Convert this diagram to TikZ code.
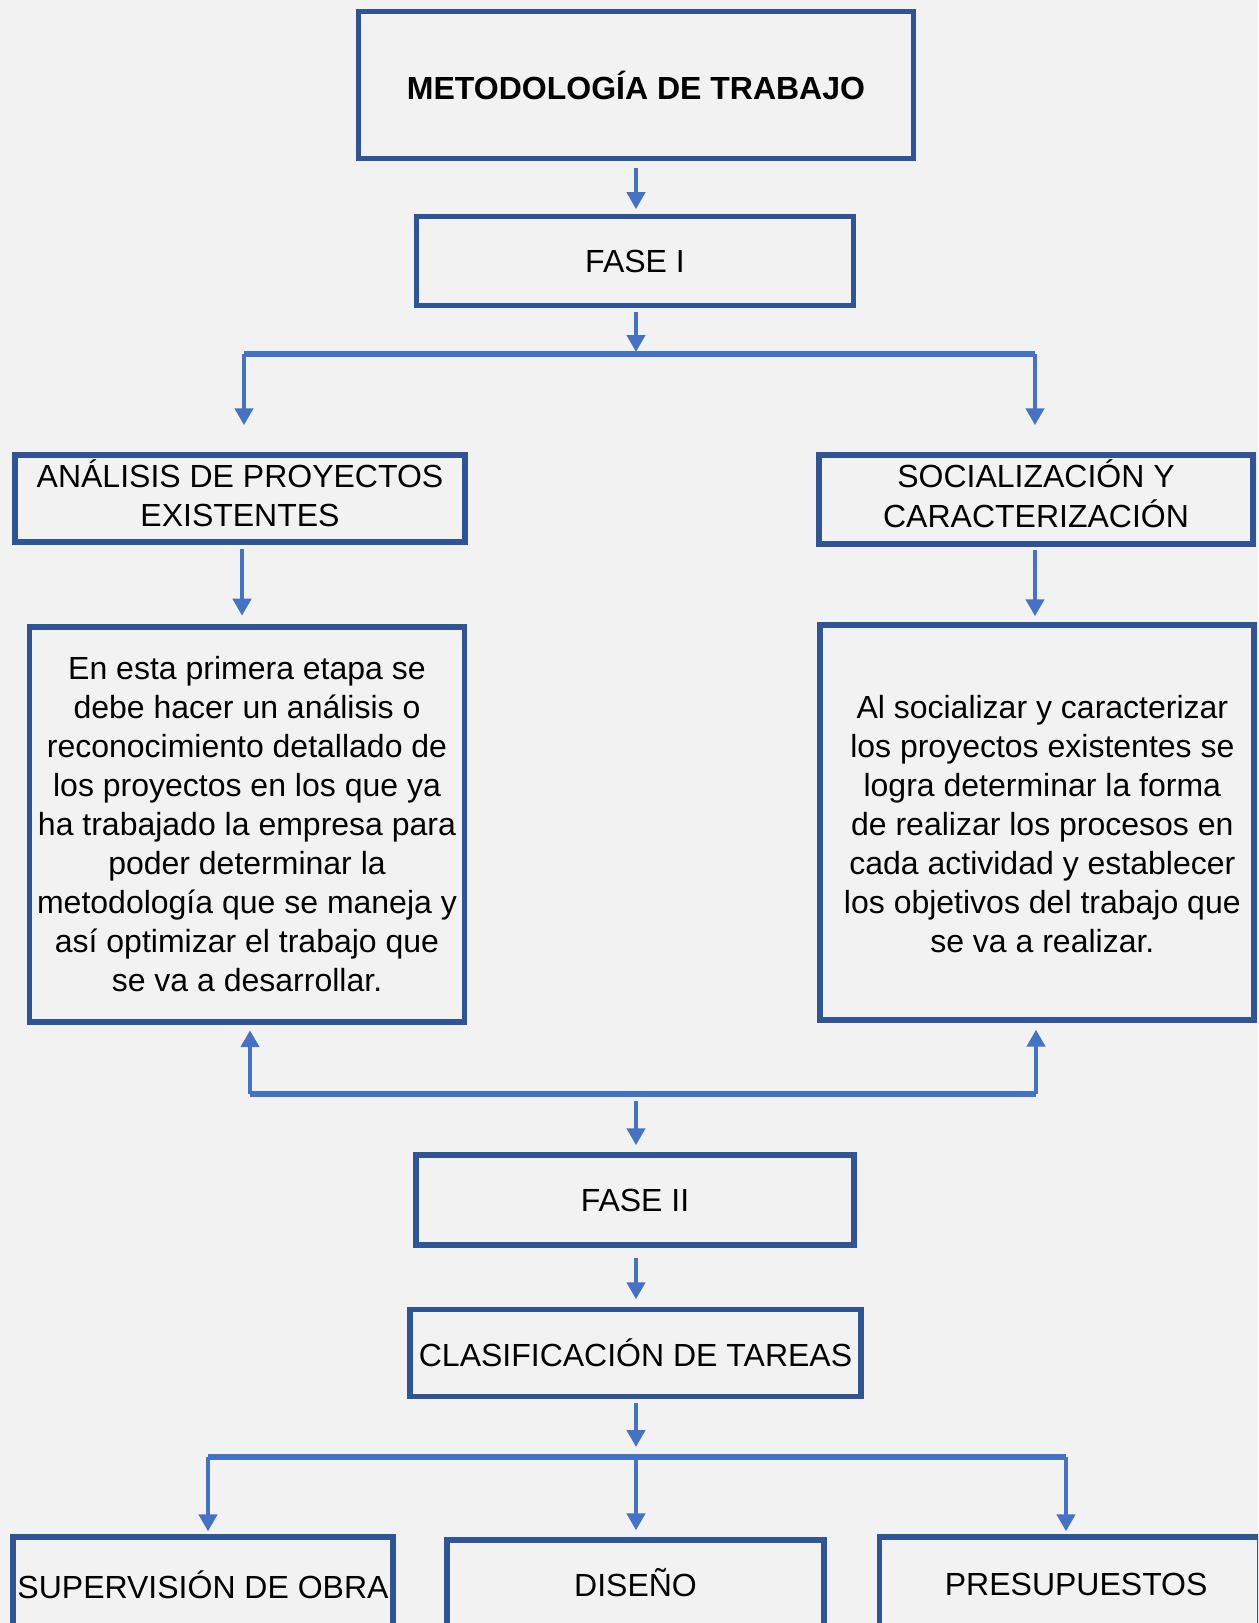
\documentclass[tikz,border=0pt]{standalone}
\usepackage{fontspec}
\setmainfont{Liberation Sans}
\usetikzlibrary{arrows.meta,calc}
\definecolor{bg}{HTML}{F2F2F2}
\definecolor{boxblue}{HTML}{2F5597}
\definecolor{arrblue}{HTML}{4472C4}
\begin{document}
\begin{tikzpicture}[x=0.75pt,y=-0.75pt,
  box/.style={draw=boxblue,line width=4.1pt,align=center,inner sep=0pt,text=black,
    font=\fontsize{24}{29.25}\selectfont},
  arr/.style={draw=arrblue,line width=3.4pt,-{Triangle[length=12.75pt,width=13.5pt]}},
  bar/.style={draw=arrblue,line width=4.9pt}]
\path[use as bounding box,fill=bg] (0,0) rectangle (1258,1623);
\begin{scope}
\clip (0,0) rectangle (1258,1623);
% nodes
\node[box,minimum width=555*0.75pt,minimum height=147*0.75pt,
  font=\fontsize{24}{29.25}\selectfont\bfseries] (title) at (636,85) {METODOLOGÍA DE TRABAJO};
\node[box,minimum width=437*0.75pt,minimum height=89*0.75pt] (f1) at (635,261) {FASE I};
\node[box,minimum width=450*0.75pt,minimum height=87*0.75pt] (ana) at (240,498.5)
  {\begin{tabular}{@{}c@{}}ANÁLISIS DE PROYECTOS\\EXISTENTES\end{tabular}};
\node[box,minimum width=434*0.75pt,minimum height=89*0.75pt] (soc) at (1036,499.5)
  {\begin{tabular}{@{}c@{}}SOCIALIZACIÓN Y\\CARACTERIZACIÓN\end{tabular}};
\node[box,minimum width=435*0.75pt,minimum height=395*0.75pt] (lt) at (247,824.5)
  {En esta primera etapa se\\debe hacer un análisis o\\reconocimiento detallado de\\los proyectos en los que ya\\ha trabajado la empresa para\\poder determinar la\\metodología que se maneja y\\así optimizar el trabajo que\\se va a desarrollar.};
\node[box,minimum width=434*0.75pt,minimum height=395*0.75pt] (rt) at (1037,822.5)
  {\hspace*{8pt}\raisebox{-3.9pt}[\height][\depth]{\begin{tabular}{@{}c@{}}Al socializar y caracterizar\\los proyectos existentes se\\logra determinar la forma\\de realizar los procesos en\\cada actividad y establecer\\los objetivos del trabajo que\\se va a realizar.\end{tabular}}};
\node[box,minimum width=438*0.75pt,minimum height=90*0.75pt] (f2) at (635,1200) {FASE II};
\node[box,minimum width=451*0.75pt,minimum height=87*0.75pt] (clas) at (635.5,1353)
  {CLASIFICACIÓN DE TAREAS};
\node[box,minimum width=380*0.75pt,minimum height=96*0.75pt] (sup) at (203,1584.75)
  {SUPERVISIÓN DE OBRA};
\node[box,minimum width=377*0.75pt,minimum height=96*0.75pt] (dis) at (635.5,1587.75)
  {\raisebox{3.9pt}[\height][\depth]{DISEÑO}};
\node[box,minimum width=380*0.75pt,minimum height=96*0.75pt] (pre) at (1069.5,1584.75)
  {\hspace*{10pt}PRESUPUESTOS};
% coordinates on bars
\coordinate (b1m) at (636,354);
\coordinate (b1l) at (244,354);
\coordinate (b1r) at (1035,354);
\coordinate (b2l) at (250,1094);
\coordinate (b2m) at (636,1094);
\coordinate (b2r) at (1036,1094);
\coordinate (b3l) at (208,1457);
\coordinate (b3m) at (636,1457);
\coordinate (b3r) at (1066,1457);
% connectors
\draw[arr,shorten <=4.9pt,shorten >=3.4pt] (title.south) -- (title.south |- f1.north);
\draw[arr,shorten <=2.6pt,shorten >=1.5pt] (b1m |- f1.south) -- (b1m);
\draw[bar] (b1l) -- (b1r);
\draw[arr,shorten >=20.25pt] (b1l) -- (b1l |- ana.north);
\draw[arr,shorten >=20.25pt] (b1r) -- (b1r |- soc.north);
\draw[arr,shorten <=3pt,shorten >=6.4pt] ([xshift=1.5pt]ana.south) -- ([xshift=1.5pt]ana.south |- lt.north);
\draw[arr,shorten <=2.2pt,shorten >=4.5pt] (b1r |- soc.south) -- (b1r |- rt.north);
\draw[bar] (b2l) -- (b2r);
\draw[arr,shorten >=4.1pt] (b2l) -- (b2l |- lt.south);
\draw[arr,shorten >=5.2pt] (b2r) -- (b2r |- rt.south);
\draw[arr,shorten <=5.25pt,shorten >=5.25pt] (b2m) -- (b2m |- f2.north);
\draw[arr,shorten <=7.5pt,shorten >=5.6pt] (b2m |- f2.south) -- (b2m |- clas.north);
\draw[arr,shorten <=2.6pt,shorten >=7.5pt] (b3m |- clas.south) -- (b3m);
\draw[bar] (b3l) -- (b3r);
\draw[arr,shorten >=2pt] (b3l) -- (b3l |- sup.north);
\draw[arr,shorten >=5pt] (b3m) -- (b3m |- dis.north);
\draw[arr,shorten >=2pt] (b3r) -- (b3r |- pre.north);
\end{scope}
\end{tikzpicture}
\end{document}
